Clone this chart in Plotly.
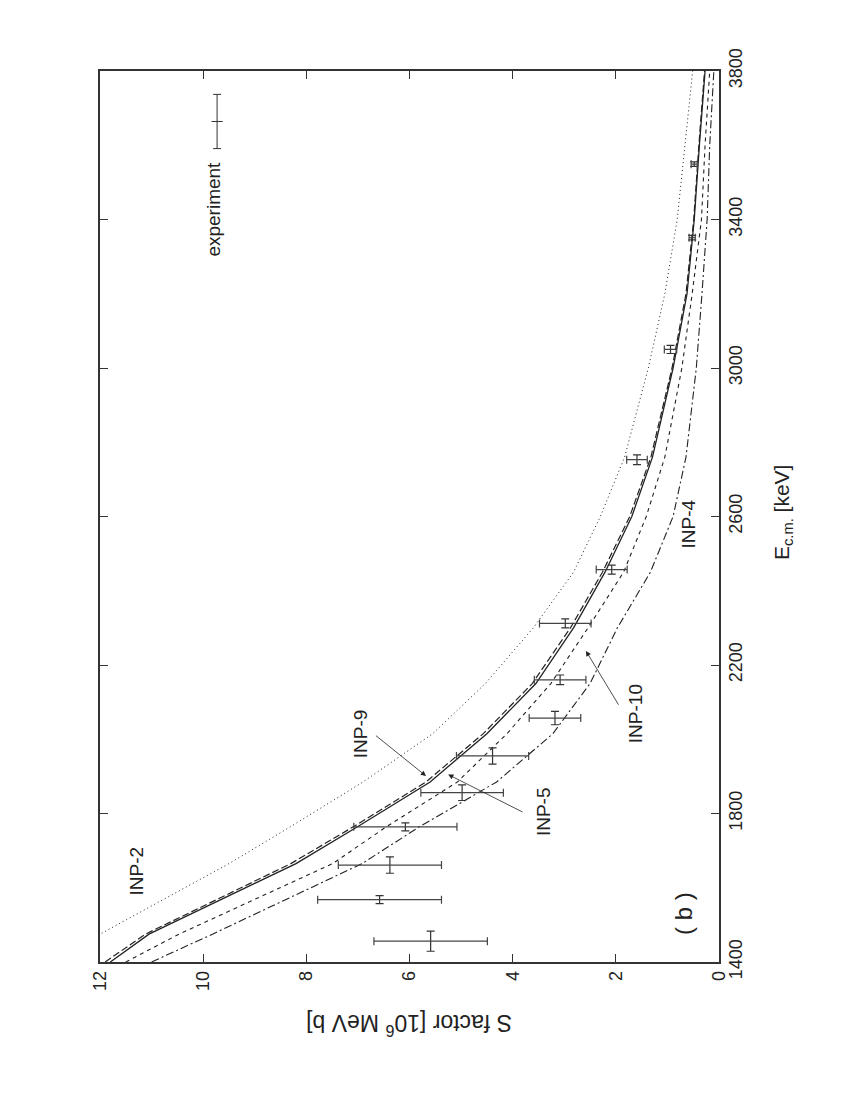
import plotly.graph_objects as go

# ---- data (E in keV, S in 10^6 MeV b) ----
E_exp = [1456, 1568, 1661, 1764, 1856, 1955, 2057, 2160, 2312, 2457, 2753, 3050, 3351, 3549]
S_exp = [5.59, 6.58, 6.38, 6.08, 4.98, 4.39, 3.18, 3.08, 2.98, 2.08, 1.59, 0.94, 0.52, 0.48]
S_err = [1.1, 1.2, 1.0, 1.0, 0.8, 0.7, 0.5, 0.5, 0.5, 0.3, 0.2, 0.12, 0.06, 0.06]
E_err = [27, 11, 22, 11, 21, 22, 18, 13, 12, 12, 13, 11, 6, 6]

E_curve = [1400, 1475, 1665, 1765, 1885, 2015, 2150, 2300, 2450, 2600, 2760, 3000, 3200, 3400, 3600, 3800]
S_inp2 = [12.9, 12.0, 9.5, 8.3, 6.9, 5.55, 4.53, 3.6, 2.82, 2.3, 1.83, 1.37, 1.05, 0.81, 0.66, 0.51]
S_inp9 = [11.9, 11.12, 8.3, 7.08, 5.68, 4.57, 3.62, 2.88, 2.26, 1.73, 1.32, 0.91, 0.64, 0.49, 0.39, 0.28]
S_inp5 = [11.8, 11.05, 8.2, 7.0, 5.6, 4.5, 3.55, 2.82, 2.21, 1.69, 1.29, 0.89, 0.62, 0.48, 0.38, 0.27]
S_inp10 = [11.5, 10.47, 7.49, 6.44, 5.07, 4.11, 3.26, 2.54, 1.85, 1.41, 1.05, 0.72, 0.52, 0.34, 0.27, 0.18]
S_inp4 = [11.0, 9.82, 6.92, 5.80, 4.31, 3.22, 2.50, 1.97, 1.33, 0.89, 0.64, 0.44, 0.33, 0.23, 0.18, 0.10]

x_ticks = [0, 2, 4, 6, 8, 10, 12]
y_ticks = [1400, 1800, 2200, 2600, 3000, 3400, 3800]

FONT = "Liberation Sans, Arial, Helvetica, sans-serif"
INK = "#222222"

fig = go.Figure()

curves = [
    (S_inp2, "INP-2", "1px,3px", 1.0),
    (S_inp9, "INP-9", "7px,3px", 1.2),
    (S_inp5, "INP-5", "solid", 1.3),
    (S_inp10, "INP-10", "4px,4px", 1.1),
    (S_inp4, "INP-4", "8px,3px,2px,3px", 1.1),
]
for s, name, dash, w in curves:
    fig.add_trace(go.Scatter(x=s, y=E_curve, mode="lines", name=name,
                             line=dict(color=INK, width=w, dash=dash),
                             showlegend=False))

fig.add_trace(go.Scatter(
    x=S_exp, y=E_exp, mode="markers", name="experiment",
    marker=dict(symbol="line-ns", size=0.1, color="#333", line=dict(width=0)),
    error_x=dict(type="data", array=S_err, color="#444", thickness=1.2, width=4),
    error_y=dict(type="data", array=E_err, color="#333", thickness=1.2, width=4),
    showlegend=False))

# legend sample for "experiment"
fig.add_trace(go.Scatter(
    x=[9.73], y=[3664], mode="markers",
    marker=dict(symbol="line-ew", size=8, color="#333", line=dict(width=1, color="#333")),
    error_y=dict(type="data", array=[73], color="#333", thickness=1, width=4),
    showlegend=False))

axis_common = dict(showgrid=False, zeroline=False, showline=True, mirror="ticks",
                   linecolor="#333", linewidth=1.5, ticks="inside", ticklen=8,
                   tickwidth=1.3, tickcolor="#333",
                   tickfont=dict(family=FONT, size=18, color=INK), tickangle=-90)

fig.update_layout(
    width=850, height=1100,
    margin=dict(l=92, r=139, t=63, b=146),
    paper_bgcolor="white", plot_bgcolor="white",
    xaxis=dict(range=[12, 0], tickvals=x_ticks, **axis_common),
    yaxis=dict(range=[1400, 3800], tickvals=y_ticks, side="right", **axis_common),
)


def label(x, y, text, size=19, angle=-90):
    fig.add_annotation(x=x, y=y, xref="x", yref="y", text=text, showarrow=False,
                       textangle=angle, font=dict(family=FONT, size=size, color=INK))


label(9.8, 3428, "experiment")
label(11.3, 1644, "INP-2")
label(6.95, 2015, "INP-9")
label(3.41, 1804, "INP-5")
label(1.63, 2070, "INP-10")
label(0.59, 2580, "INP-4")
label(0.70, 1532, "( b )", size=24)


def arrow(x0, y0, x1, y1):
    fig.add_annotation(x=x1, y=y1, ax=x0, ay=y0, xref="x", yref="y", axref="x", ayref="y",
                       text="", showarrow=True, arrowhead=2, arrowsize=1.3,
                       arrowwidth=0.8, arrowcolor=INK)


arrow(6.68, 2013, 5.68, 1901)
arrow(3.78, 1802, 5.25, 1905)
arrow(1.93, 2089, 2.58, 2238)

# axis titles (rotated like the reference)
fig.add_annotation(x=0.5, y=-(1017 - 954) / (954 - 63), xref="paper", yref="paper",
                   showarrow=False, text="S factor [10<sup>6</sup> MeV b]", textangle=180,
                   yanchor="middle", font=dict(family=FONT, size=23, color=INK))
fig.add_annotation(x=1 + (775 - 711) / (711 - 92), y=(954 - 505) / (954 - 63),
                   xref="paper", yref="paper", showarrow=False,
                   text="E<sub>c.m.</sub> [keV]", textangle=-90, xanchor="center",
                   font=dict(family=FONT, size=21, color=INK))

fig.write_html("out.html")
